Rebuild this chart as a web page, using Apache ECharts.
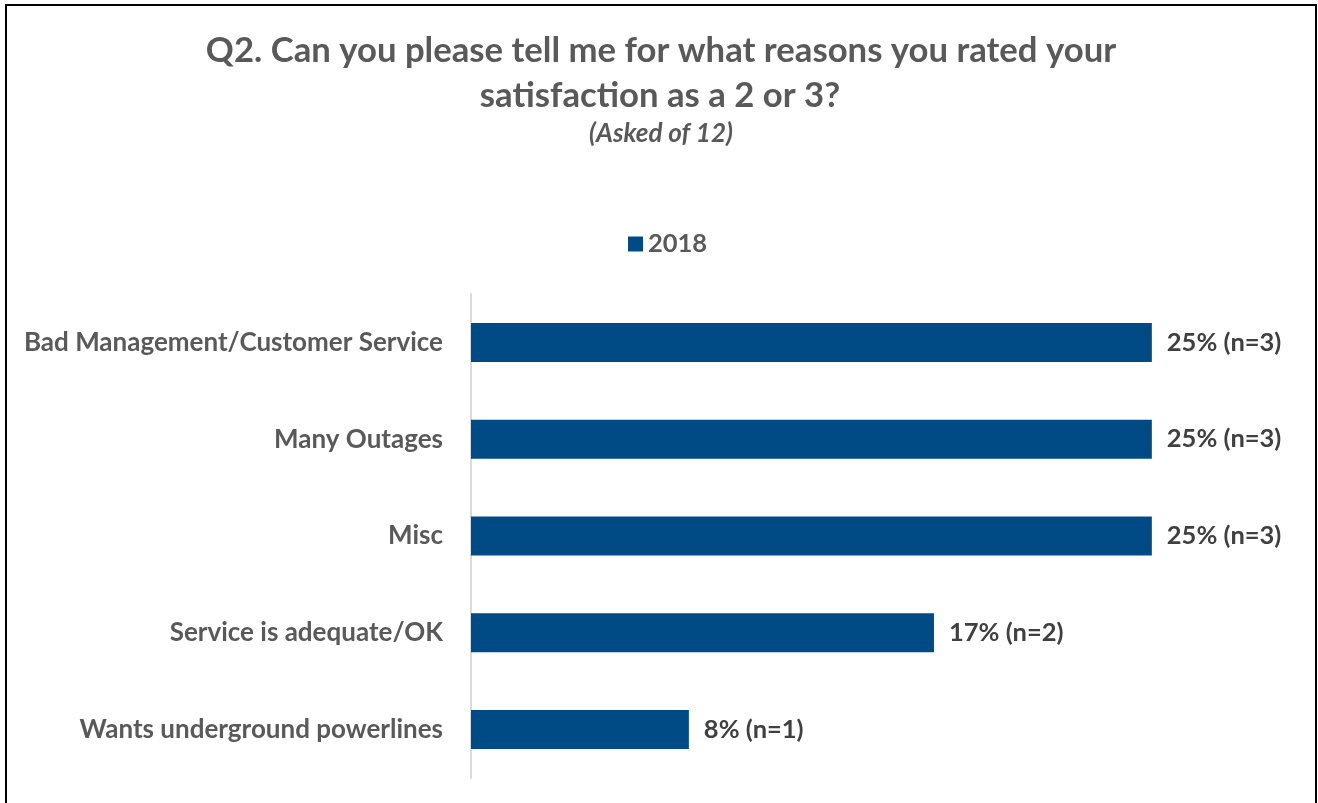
<!DOCTYPE html>
<html>
<head>
<meta charset="utf-8">
<script src="https://cdn.jsdelivr.net/npm/echarts@6/dist/echarts.min.js"></script>
<style>
html,body{margin:0;padding:0;background:#fff;}
#chart{width:1318px;height:803px;}
</style>
</head>
<body>
<div id="chart"></div>
<script>
const categories = ["Bad Management/Customer Service", "Many Outages", "Misc", "Service is adequate/OK", "Wants underground powerlines"];
const values = [25, 25, 25, 17, 8];
const counts = [3, 3, 3, 2, 1];
const seriesName = "2018";
const titleLines = ["Q2. Can you please tell me for what reasons you rated your", "satisfaction as a 2 or 3?"];
const subtitleText = "(Asked of 12)";

const FONT = "Lato";
const chart = echarts.init(document.getElementById('chart'));
chart.setOption({
  backgroundColor: '#fff',
  textStyle: { fontFamily: FONT },
  legend: {
    top: 226, left: 623,
    itemWidth: 15, itemHeight: 15, itemGap: 6,
    icon: 'rect',
    textStyle: { fontFamily: FONT, fontSize: 25.5, fontWeight: 'bold', color: '#595959', padding: [0, 0, 0, 0] },
    data: [seriesName]
  },
  grid: { left: 471, right: 30, top: 294, bottom: 25, containLabel: false },
  xAxis: {
    type: 'value', min: 0, max: 30,
    show: false
  },
  yAxis: {
    type: 'category', inverse: true,
    data: categories,
    axisLine: { show: true, lineStyle: { color: '#d9d9d9', width: 2 } },
    axisTick: { show: false },
    axisLabel: { margin: 28, fontFamily: FONT, fontSize: 26, fontWeight: 'bold', color: '#595959' }
  },
  series: [{
    name: seriesName,
    type: 'bar',
    data: values,
    barWidth: 39,
    itemStyle: { color: '#004A86' },
    label: {
      show: true, position: 'right', distance: 15,
      fontFamily: FONT, fontSize: 25.5, fontWeight: 'bold', color: '#404040',
      formatter: p => p.value + '% (n=' + counts[p.dataIndex] + ')'
    }
  }],
  graphic: [{
    type: 'polyline',
    shape: { points: [[6, 803], [6, 5], [1316, 5], [1316, 803]] },
    style: { stroke: '#000', lineWidth: 2, fill: null },
    silent: true
  }, {
    type: 'text', x: 661, y: 51,
    style: { text: titleLines[0], font: 'bold 34.7px Lato', fill: '#595959', align: 'center', verticalAlign: 'middle' }
  }, {
    type: 'text', x: 660, y: 96,
    style: { text: titleLines[1], font: 'bold 34.7px Lato', fill: '#595959', align: 'center', verticalAlign: 'middle' }
  }, {
    type: 'text', x: 661, y: 134,
    style: { text: subtitleText, font: 'italic bold 26px Lato', fill: '#595959', align: 'center', verticalAlign: 'middle' }
  }]
});
</script>
</body>
</html>
